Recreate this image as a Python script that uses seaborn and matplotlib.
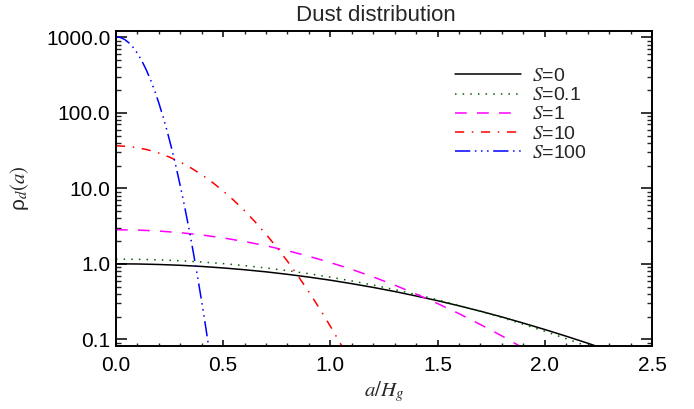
import numpy as np
import pandas as pd
import matplotlib
matplotlib.use("Agg")
import matplotlib.pyplot as plt
import matplotlib.ticker as mticker
import seaborn as sns

# valores (a/H_g, rho_d)
a_s0 = [0.0, 0.1, 0.2, 0.3, 0.4, 0.5, 0.6, 0.7, 0.8, 0.9, 1.0, 1.1,
        1.2, 1.3, 1.4, 1.5, 1.6, 1.7, 1.8, 1.9, 2.0, 2.1, 2.2, 2.3]
rho_s0 = [1.0, 0.995, 0.980, 0.956, 0.923, 0.882, 0.835, 0.783, 0.726, 0.667,
          0.607, 0.546, 0.487, 0.430, 0.375, 0.325, 0.278, 0.236, 0.198, 0.164,
          0.135, 0.110, 0.089, 0.071]

a_s01 = a_s0
rho_s01 = [1.154, 1.148, 1.129, 1.098, 1.057, 1.006, 0.947, 0.881, 0.812, 0.739,
           0.666, 0.593, 0.523, 0.455, 0.393, 0.335, 0.282, 0.235, 0.194, 0.158,
           0.128, 0.102, 0.0806, 0.0629]

a_s1 = [0.0, 0.1, 0.2, 0.3, 0.4, 0.5, 0.6, 0.7, 0.8, 0.9, 1.0,
        1.1, 1.2, 1.3, 1.4, 1.5, 1.6, 1.7, 1.8, 1.9, 2.0]
rho_s1 = [2.828, 2.800, 2.717, 2.585, 2.410, 2.203, 1.973, 1.733, 1.491, 1.258, 1.040,
          0.843, 0.670, 0.522, 0.398, 0.298, 0.219, 0.157, 0.111, 0.0766, 0.0518]

a_s10 = [0.0, 0.05, 0.10, 0.15, 0.20, 0.25, 0.30, 0.35, 0.40, 0.45, 0.50, 0.55,
         0.60, 0.65, 0.70, 0.75, 0.80, 0.85, 0.90, 0.95, 1.00, 1.05, 1.10]
rho_s10 = [36.48, 35.98, 34.53, 32.23, 29.28, 25.87, 22.24, 18.60, 15.13, 11.98, 9.22, 6.91,
           5.04, 3.572, 2.464, 1.654, 1.080, 0.686, 0.424, 0.255, 0.149, 0.0849, 0.0470]

a_s100 = [0.0, 0.02, 0.04, 0.06, 0.08, 0.10, 0.12, 0.14, 0.16, 0.18, 0.20, 0.22,
          0.24, 0.26, 0.28, 0.30, 0.32, 0.34, 0.36, 0.38, 0.40, 0.42, 0.44]
rho_s100 = [1015.0, 994.7, 936.2, 846.3, 734.7, 612.6, 490.5, 377.2, 278.6, 197.7, 134.6, 88.08,
            55.37, 33.42, 19.37, 10.78, 5.765, 2.960, 1.459, 0.691, 0.3145, 0.1372, 0.0576]

etiquetas = ["$S$=0", "$S$=0.1", "$S$=1", "$S$=10", "$S$=100"]
y_ticks = [0.1, 1.0, 10.0, 100.0, 1000.0]
x_ticks = [0.0, 0.5, 1.0, 1.5, 2.0, 2.5]

sns.set_style("ticks")
plt.rcParams["font.family"] = ["Liberation Sans", "DejaVu Sans"]
plt.rcParams["mathtext.fontset"] = "stix"

fig = plt.figure(figsize=(6.94, 4.09), dpi=100)
ax = fig.add_axes([0.1671, 0.154, 0.7723, 0.7702])

curvas = [
    (a_s0, rho_s0, "black", "-"),
    (a_s01, rho_s01, "#006400", (0, (1, 4))),
    (a_s1, rho_s1, "#ff00ff", (0, (7.7, 6.7))),
    (a_s10, rho_s10, "#ff0000", (0, (6, 5, 1, 5))),
    (a_s100, rho_s100, "#0000ff", (0, (10, 3, 1, 3, 1, 3, 1, 3))),
]
for (x, y, col, ls), lab in zip(curvas, etiquetas):
    df = pd.DataFrame({"a": x, "rho": y})
    sns.lineplot(data=df, x="a", y="rho", ax=ax, color=col, linestyle=ls,
                 linewidth=1.1, label=lab)

ax.set_yscale("log")
ax.set_xlim(0, 2.5)
ax.set_ylim(0.0816, 1210)

ax.xaxis.set_major_locator(mticker.FixedLocator(x_ticks))
ax.xaxis.set_minor_locator(mticker.MultipleLocator(0.1))
ax.xaxis.set_major_formatter(mticker.FormatStrFormatter("%.1f"))
ax.yaxis.set_major_locator(mticker.FixedLocator(y_ticks))
ax.yaxis.set_minor_locator(mticker.LogLocator(base=10, subs=np.arange(2, 10)))
ax.yaxis.set_major_formatter(mticker.FormatStrFormatter("%.1f"))
ax.yaxis.set_minor_formatter(mticker.NullFormatter())

for s in ax.spines.values():
    s.set_visible(True)
    s.set_linewidth(1.4)
    s.set_color("black")

ax.tick_params(axis="x", which="major", direction="in", length=4.6, width=1.1,
               top=True, bottom=True, labelsize=15, pad=7, colors="black")
ax.tick_params(axis="x", which="minor", direction="in", length=2.4, width=1.0,
               top=True, bottom=True)
ax.tick_params(axis="y", which="major", direction="in", length=7.7, width=1.1,
               left=True, right=True, labelsize=15, pad=4, colors="black")
ax.tick_params(axis="y", which="minor", direction="in", length=3.9, width=1.0,
               left=True, right=True)

ax.set_xlabel("$a/H_g$", fontsize=15, labelpad=3)
ax.set_ylabel("ρ$_d(a)$", fontsize=15, labelpad=11)
fig.text(376 / 694, 1 - 21 / 409, "Dust distribution", fontsize=16,
         ha="center", va="baseline")

ax.legend(loc="upper left", bbox_to_anchor=(0.632, 0.884), frameon=False,
          fontsize=14, handlelength=3.4, handletextpad=0.55, labelspacing=0.08,
          borderpad=0, borderaxespad=0)

fig.savefig("out.png", dpi=100)
